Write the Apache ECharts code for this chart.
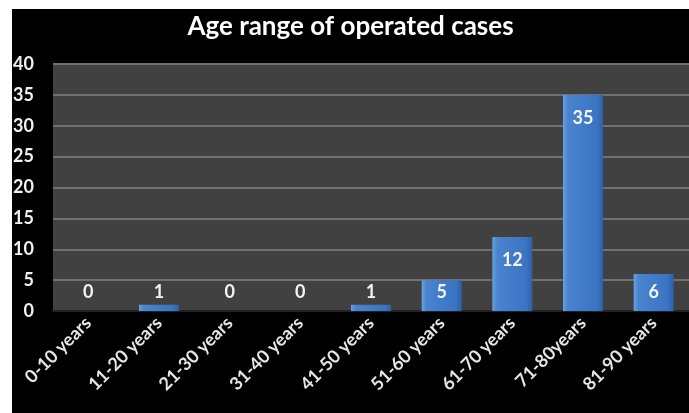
<!DOCTYPE html>
<html>
<head>
<meta charset="utf-8">
<script src="https://cdn.jsdelivr.net/npm/echarts@6/dist/echarts.min.js"></script>
<style>
    html, body { margin: 0; padding: 0; background: #fff; }
    #chart { position: absolute; left: 12px; top: 9px; width: 677px; height: 404px; }
</style>
</head>
<body>
<div id="chart"></div>
<script>
// 数据
const categories = ['0-10 years', '11-20 years', '21-30 years', '31-40 years', '41-50 years',
    '51-60 years', '61-70 years', '71-80years', '81-90 years'];
const cases = [0, 1, 0, 0, 1, 5, 12, 35, 6];
const yTicks = [0, 40, 5]; // min, max, interval

const font = 'Lato, "Open Sans", sans-serif';

// 小柱子的标签放在底部上方，大柱子放在柱内顶部
const barData = cases.map(v => ({
    value: v,
    label: v < 8
        ? { position: 'insideBottom', distance: 10 }
        : { position: 'insideTop', distance: 14 }
}));

const chart = echarts.init(document.getElementById('chart'));
chart.setOption({
    backgroundColor: '#000',
    animation: false,
    title: {
        text: 'Age range of operated cases',
        left: 'center',
        top: 0,
        textStyle: { color: '#fff', fontFamily: font, fontSize: 26, fontWeight: 'bold' }
    },
    grid: {
        left: 41, right: 0, top: 55, bottom: 102,
        show: true,
        backgroundColor: '#414141',
        borderWidth: 0,
        containLabel: false,
        outerBoundsMode: 'none'
    },
    xAxis: {
        type: 'category',
        data: categories,
        axisTick: { show: false },
        axisLine: { lineStyle: { color: '#222', width: 2 } },
        axisLabel: {
            rotate: 45,
            interval: 0,
            margin: 9,
            color: '#e6e6e6',
            fontFamily: font,
            fontSize: 18,
            fontWeight: 'bold'
        }
    },
    yAxis: {
        type: 'value',
        min: yTicks[0],
        max: yTicks[1],
        interval: yTicks[2],
        axisLine: { show: false },
        axisTick: { show: false },
        axisLabel: {
            margin: 19,
            color: '#f0f0f0',
            fontFamily: font,
            fontSize: 18,
            fontWeight: 'bold'
        },
        splitLine: { lineStyle: { color: '#707070', width: 2 } }
    },
    series: [
        {
            name: 'cases',
            type: 'bar',
            barWidth: 40,
            data: barData,
            itemStyle: {
                color: new echarts.graphic.LinearGradient(0, 0, 1, 0, [
                    { offset: 0, color: '#6a9fe2' },
                    { offset: 0.12, color: '#4a84d0' },
                    { offset: 0.85, color: '#3a74c2' },
                    { offset: 1, color: '#2c60a8' }
                ])
            },
            label: {
                show: true,
                color: '#f4f4f4',
                fontFamily: font,
                fontSize: 18,
                fontWeight: 'bold'
            }
        }
    ]
});
</script>
</body>
</html>
